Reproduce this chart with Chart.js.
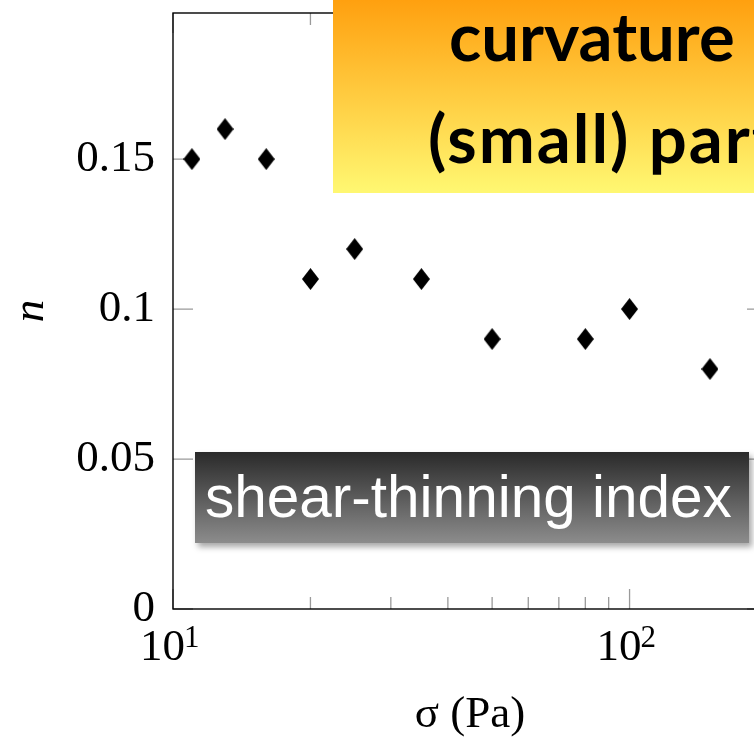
<!DOCTYPE html>
<html>
<head>
<meta charset="utf-8">
<script src="https://cdn.jsdelivr.net/npm/chart.js@4.4.1/dist/chart.umd.min.js"></script>
<style>
  html, body { margin: 0; padding: 0; background: #fff; overflow: hidden; }
  #wrap { position: relative; width: 754px; height: 738px; overflow: hidden; }
  #chart { position: absolute; left: 0; top: 0; }
  .warm { position: absolute; left: 333px; top: 0; width: 480px; height: 193px; background: linear-gradient(#ffa00f, #fff872); }
  .warm span { position: absolute; font-family: Lato, sans-serif; font-weight: 700; font-size: 67px; line-height: 1; white-space: nowrap; color: #000; }
  .dark { position: absolute; left: 195px; top: 452px; width: 554px; height: 91px; background: linear-gradient(#2a2a2a, #8c8c8c); box-shadow: 3px 4px 6px rgba(0,0,0,0.35); }
  .dark span { position: absolute; left: 10px; top: 16px; font-family: "Liberation Sans", Arial, sans-serif; font-size: 58.5px; line-height: 1; color: #fff; white-space: nowrap; }
</style>
</head>
<body>
<div id="wrap">
  <canvas id="chart" width="800" height="738"></canvas>
  <div class="warm">
    <span style="left:116px; top:2px;">curvature</span>
    <span style="left:95px; top:104px; letter-spacing:2px;">(small) part</span>
  </div>
  <div class="dark"><span>shear-thinning index</span></div>
</div>
<script>
// stress (Pa) and flow index
const sigma = [11, 13, 16, 20, 25, 35, 50, 80, 100, 150];
const nIndex = [0.15, 0.16, 0.15, 0.11, 0.12, 0.11, 0.09, 0.09, 0.10, 0.08];

const yTicks = [0, 0.05, 0.1, 0.15];
const yTickLabels = ['0', '0.05', '0.1', '0.15'];
const xTicks = [10, 20, 30, 40, 50, 60, 70, 80, 90, 100, 200];
const xMajor = [10, 100];
const xExponents = ['1', '2'];

// filled diamond marker, a bit taller than wide
const diamond = document.createElement('canvas');
diamond.width = 17;
diamond.height = 22;
const dctx = diamond.getContext('2d');
dctx.fillStyle = '#000';
dctx.beginPath();
dctx.moveTo(8.5, 0);
dctx.lineTo(17, 11);
dctx.lineTo(8.5, 22);
dctx.lineTo(0, 11);
dctx.closePath();
dctx.fill();

const serif = 'Liberation Serif';

// pgfplots style frame with ticks pointing inward
const frame = {
  id: 'frame',
  beforeDatasetsDraw(chart) {
    const { ctx, chartArea: a, scales: { x, y } } = chart;
    ctx.save();
    ctx.strokeStyle = '#9a9a9a';
    ctx.lineWidth = 1.3;
    ctx.beginPath();
    yTicks.forEach(v => {
      const py = y.getPixelForValue(v);
      ctx.moveTo(a.left, py); ctx.lineTo(a.left + 20, py);
      ctx.moveTo(a.right, py); ctx.lineTo(a.right - 20, py);
    });
    xTicks.forEach(v => {
      const px = x.getPixelForValue(v);
      const len = xMajor.includes(v) ? 20 : 12;
      ctx.moveTo(px, a.bottom); ctx.lineTo(px, a.bottom - len);
      ctx.moveTo(px, a.top); ctx.lineTo(px, a.top + len);
    });
    ctx.stroke();
    ctx.strokeStyle = '#000';
    ctx.lineWidth = 1.4;
    ctx.strokeRect(a.left, a.top, a.width, a.height);
    ctx.restore();
  },
  // superscript exponents next to the "10" tick labels
  afterDraw(chart) {
    const { ctx, chartArea: a, scales: { x } } = chart;
    ctx.save();
    ctx.fillStyle = '#000';
    ctx.font = '31px "' + serif + '"';
    ctx.textAlign = 'left';
    ctx.textBaseline = 'alphabetic';
    xMajor.forEach((v, i) => {
      ctx.fillText(xExponents[i], x.getPixelForValue(v) + 11, a.bottom + 38);
    });
    ctx.restore();
  }
};

new Chart(document.getElementById('chart'), {
  type: 'scatter',
  data: {
    datasets: [{
      data: sigma.map((s, i) => ({ x: s, y: nIndex[i] })),
      pointStyle: diamond,
      pointRadius: 9,
      backgroundColor: '#000',
      borderColor: '#000'
    }]
  },
  options: {
    responsive: false,
    animation: false,
    devicePixelRatio: 1,
    layout: { padding: { top: 13, right: 33, left: 0, bottom: 0 } },
    plugins: { legend: { display: false }, tooltip: { enabled: false } },
    scales: {
      x: {
        type: 'logarithmic',
        min: 10,
        max: 200,
        grid: { display: false, drawTicks: false },
        border: { display: false },
        afterBuildTicks: s => { s.ticks = xTicks.map(v => ({ value: v })); },
        afterFit: s => { s.height = 129; s.paddingLeft = 0; s.paddingRight = 0; },
        ticks: {
          autoSkip: false,
          maxRotation: 0,
          padding: 12,
          labelOffset: -10.5,
          color: '#000',
          font: { family: serif, size: 45 },
          callback: v => (xMajor.includes(v) ? '10' : '')
        },
        title: {
          display: true,
          text: 'σ (Pa)',
          color: '#000',
          font: { family: serif, size: 45, lineHeight: 1 },
          padding: { top: 0, bottom: 0 }
        }
      },
      y: {
        min: 0,
        max: 0.1987,
        grid: { display: false, drawTicks: false },
        border: { display: false },
        afterBuildTicks: s => { s.ticks = yTicks.map(v => ({ value: v })); },
        afterFit: s => { s.width = 173; s.paddingTop = 0; s.paddingBottom = 0; },
        ticks: {
          padding: 18,
          color: '#000',
          font: { family: serif, size: 45 },
          callback: (v, i) => yTickLabels[i]
        },
        title: {
          display: true,
          text: 'n',
          color: '#000',
          font: { family: serif, size: 45, style: 'italic', lineHeight: 1 },
          padding: { top: 9, bottom: 0 }
        }
      }
    }
  },
  plugins: [frame]
});
</script>
</body>
</html>
